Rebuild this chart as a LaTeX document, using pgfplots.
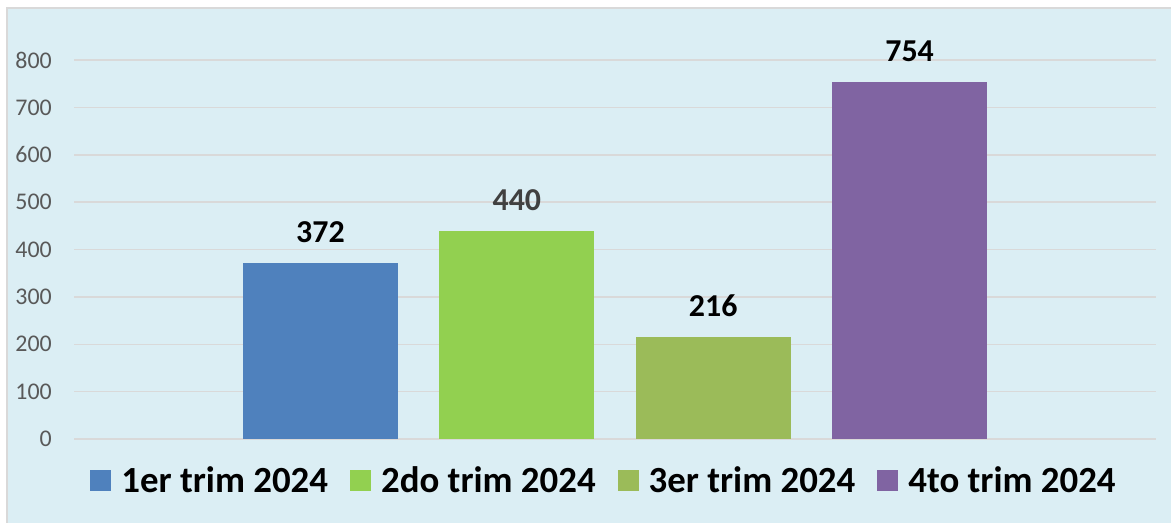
\documentclass[border=0pt]{standalone}
\usepackage{pgfplots}
\pgfplotsset{compat=1.18}
\usepackage{fontspec}
\setmainfont{Carlito}
\definecolor{bg}{HTML}{DBEEF4}
\definecolor{framec}{HTML}{D9D9D9}
\definecolor{gridc}{HTML}{D9D9D9}
\definecolor{tickc}{HTML}{595959}
\definecolor{c1}{HTML}{4F81BD}
\definecolor{c2}{HTML}{92D050}
\definecolor{c3}{HTML}{9BBB59}
\definecolor{c4}{HTML}{8064A2}
\definecolor{lab2}{HTML}{404040}
\begin{document}
\begin{tikzpicture}
\useasboundingbox (0bp,0bp) rectangle (1171bp,-523bp);
\fill[bg] (7bp,-8bp) rectangle (1171bp,-523bp);
\draw[framec, line width=1.5bp] (7bp,-523bp) -- (7bp,-8bp) -- (1171bp,-8bp);
\begin{axis}[
  at={(74bp,-439bp)}, anchor=south west,
  scale only axis, width=1082bp, height=416.9bp,
  ymin=0, ymax=880, ytick={0,100,...,800},
  xmin=-1.255, xmax=4.255, xtick=\empty,
  axis line style={draw=none},
  major tick length=0pt, tick style={draw=none},
  ymajorgrids, grid style={gridc, line width=1.5bp},
  clip=false,
  /pgf/number format/assume math mode=true,
  yticklabel style={font=\fontsize{24}{28}\selectfont, text=tickc, anchor=east, inner sep=0pt, xshift=-22bp},
  legend columns=4,
  legend style={at={(0.5,0)}, anchor=center, yshift=-41.5bp, xshift=-12bp, draw=none, fill=none,
    inner sep=0pt, outer sep=0pt,
    font=\bfseries\fontsize{37}{40}\selectfont,
    nodes={inner sep=0pt},
    /tikz/every odd column/.append style={column sep=10bp},
    /tikz/every even column/.append style={column sep=22bp}},
  nodes near coords,
  every node near coord/.append style={font=\bfseries\fontsize{32}{36}\selectfont, anchor=south, inner sep=0pt, yshift=20bp},
]
\addplot[ybar, bar width=155bp, bar shift=0pt, fill=c1, draw=none,
  every node near coord/.append style={text=black},
  legend image code/.code={\fill[c1] (0bp,-10.5bp) rectangle (21bp,10.5bp);}]
  coordinates {(0,372)};
\addlegendentry{1er trim 2024}
\addplot[ybar, bar width=155bp, bar shift=0pt, fill=c2, draw=none,
  every node near coord/.append style={text=lab2},
  legend image code/.code={\fill[c2] (0bp,-10.5bp) rectangle (21bp,10.5bp);}]
  coordinates {(1,440)};
\addlegendentry{2do trim 2024}
\addplot[ybar, bar width=155bp, bar shift=0pt, fill=c3, draw=none,
  every node near coord/.append style={text=black},
  legend image code/.code={\fill[c3] (0bp,-10.5bp) rectangle (21bp,10.5bp);}]
  coordinates {(2,216)};
\addlegendentry{3er trim 2024}
\addplot[ybar, bar width=155bp, bar shift=0pt, fill=c4, draw=none,
  every node near coord/.append style={text=black},
  legend image code/.code={\fill[c4] (0bp,-10.5bp) rectangle (21bp,10.5bp);}]
  coordinates {(3,754)};
\addlegendentry{4to trim 2024}
\end{axis}
\end{tikzpicture}
\end{document}
